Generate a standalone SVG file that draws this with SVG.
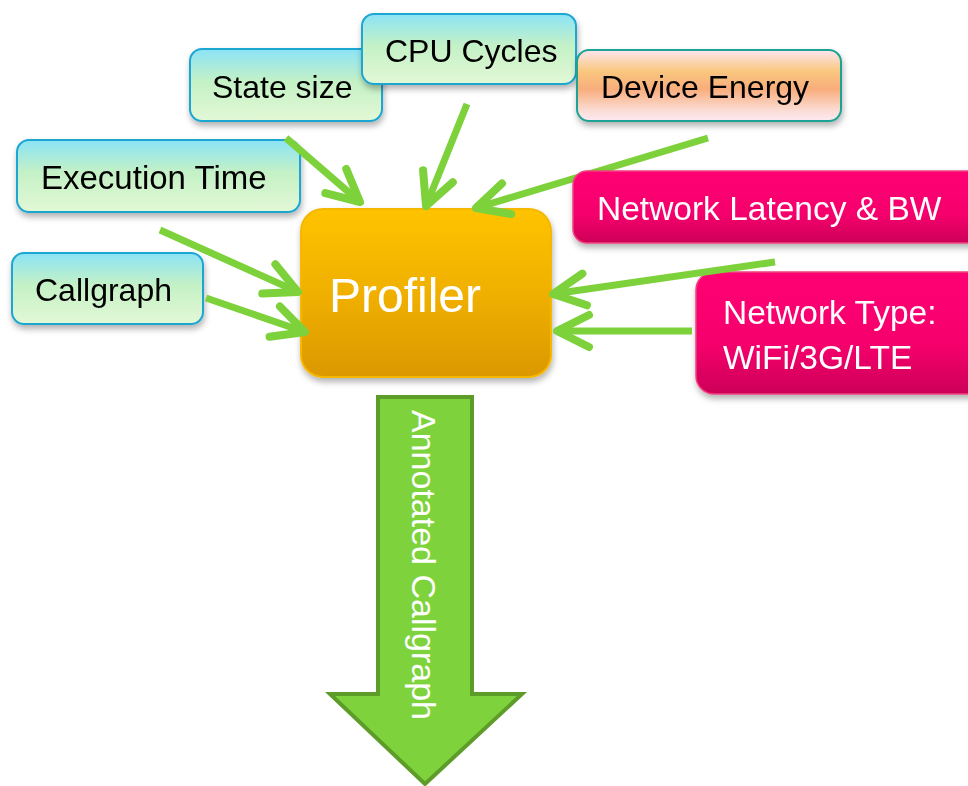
<svg xmlns="http://www.w3.org/2000/svg" width="968" height="786" viewBox="0 0 968 786">
<defs>
<style>
.t{font-family:"Liberation Sans",Arial,sans-serif;font-size:32px;fill:#000}
.w{fill:#fff}
.b{font-size:33.5px}
.blue{fill:url(#gBlue);stroke:#1ba6d2;stroke-width:2}
.net{fill:url(#gNet);stroke:#f0407f;stroke-width:1.5}
.con{fill:none;stroke:#7dd13b;stroke-width:7;marker-end:url(#ah)}
</style>
<linearGradient id="gBlue" x1="0" y1="0" x2="0" y2="1">
<stop offset="0" stop-color="#8be3f6"/>
<stop offset="0.45" stop-color="#c4f1c6"/>
<stop offset="1" stop-color="#e3f8d6"/>
</linearGradient>
<linearGradient id="gEnergy" x1="0" y1="0" x2="0" y2="1">
<stop offset="0" stop-color="#fde6f0"/>
<stop offset="0.3" stop-color="#f9c77e"/>
<stop offset="0.55" stop-color="#f9ad7c"/>
<stop offset="0.85" stop-color="#fbdcd4"/>
<stop offset="1" stop-color="#fde9f3"/>
</linearGradient>
<linearGradient id="gNet" x1="0" y1="0" x2="0" y2="1">
<stop offset="0" stop-color="#ff0073"/>
<stop offset="0.6" stop-color="#f5006c"/>
<stop offset="1" stop-color="#cc0058"/>
</linearGradient>
<linearGradient id="gProf" x1="0" y1="0" x2="0" y2="1">
<stop offset="0" stop-color="#ffc300"/>
<stop offset="0.5" stop-color="#f0b000"/>
<stop offset="1" stop-color="#dc9800"/>
</linearGradient>
<filter id="sh" x="-10%" y="-10%" width="125%" height="135%">
<feDropShadow dx="1" dy="4" stdDeviation="3" flood-color="#000" flood-opacity="0.3"/>
</filter>
<marker id="ah" markerUnits="userSpaceOnUse" markerWidth="80" markerHeight="80" viewBox="-40 -40 80 80" refX="0" refY="0" orient="auto" overflow="visible">
<path d="M-32,-16 L0,0 L-32,16" fill="none" stroke="#7dd13b" stroke-width="8" stroke-linecap="round" stroke-linejoin="round"/>
</marker>
</defs>
<rect width="968" height="786" fill="#fff"/>

<g id="state-size" filter="url(#sh)">
<rect class="blue" x="190" y="49" width="192" height="72" rx="12"/>
<text class="t" x="212" y="98">State size</text>
</g>
<g id="cpu-cycles" filter="url(#sh)">
<rect class="blue" x="362" y="14" width="214" height="70" rx="12"/>
<text class="t" x="385" y="62">CPU Cycles</text>
</g>
<g id="device-energy" filter="url(#sh)">
<rect x="577" y="50" width="264" height="71" rx="12" fill="url(#gEnergy)" stroke="#1fa394" stroke-width="2"/>
<text class="t" x="601" y="98">Device Energy</text>
</g>
<g id="execution-time" filter="url(#sh)">
<rect class="blue" x="17" y="140" width="283" height="72" rx="12"/>
<text class="t" x="41" y="189" style="font-size:33px">Execution Time</text>
</g>
<g id="callgraph" filter="url(#sh)">
<rect class="blue" x="12" y="253" width="191" height="71" rx="12"/>
<text class="t" x="35" y="301">Callgraph</text>
</g>
<g id="profiler" filter="url(#sh)">
<rect x="301" y="209" width="250" height="168" rx="22" fill="url(#gProf)" stroke="#f5b800" stroke-width="2"/>
<text class="t w" x="329" y="312" style="font-size:48px">Profiler</text>
</g>
<g id="network-type" filter="url(#sh)">
<rect class="net" x="696" y="272" width="300" height="122" rx="18"/>
<text class="t w b" x="723" y="324">Network Type:</text>
<text class="t w b" x="723" y="369">WiFi/3G/LTE</text>
</g>

<g id="connectors">
<line class="con" x1="286" y1="138" x2="360" y2="202"/>
<line class="con" x1="467" y1="104" x2="426" y2="206"/>
<line class="con" x1="708" y1="138" x2="476" y2="208"/>
<line class="con" x1="160" y1="230" x2="298" y2="292"/>
<line class="con" x1="206" y1="298" x2="305" y2="332"/>
<line class="con" x1="775" y1="262" x2="553" y2="294"/>
<line class="con" x1="692" y1="331" x2="557" y2="331"/>
</g>

<g id="network-latency" filter="url(#sh)">
<rect class="net" x="573" y="171" width="420" height="72" rx="14"/>
<text class="t w b" x="597" y="220">Network Latency &amp; BW</text>
</g>

<g id="annotated-callgraph">
<path d="M378,397 L472,397 L472,694 L522,694 L425,784 L330,694 L378,694 Z" fill="#7ed33c" stroke="#5e9c2a" stroke-width="4" stroke-linejoin="miter"/>
<text class="t w" transform="translate(412,410) rotate(90)" style="font-size:34px">Annotated Callgraph</text>
</g>
</svg>
